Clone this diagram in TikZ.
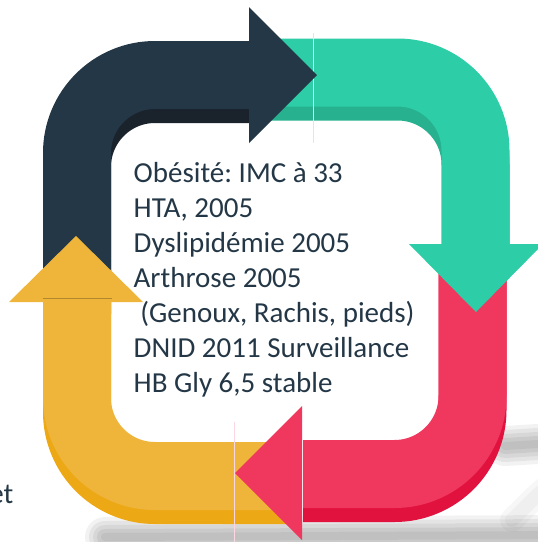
\documentclass[tikz,border=0pt]{standalone}
\usepackage{fontspec}
\setmainfont{Carlito}
\definecolor{navy}{HTML}{243746}
\definecolor{navyd}{HTML}{1A222B}
\definecolor{teal}{HTML}{2DCDA8}
\definecolor{teald}{HTML}{27B18F}
\definecolor{rouge}{HTML}{F0385E}
\definecolor{rouged}{HTML}{E2123F}
\definecolor{jaune}{HTML}{EFB53B}
\definecolor{jauned}{HTML}{EDA815}
\definecolor{ink}{HTML}{243746}
\begin{document}
\frenchspacing
\begin{tikzpicture}[x=1pt,y=-1pt,
  band/.style={line width=68pt, line cap=butt, rounded corners=78pt},
  txt/.style={anchor=base west, inner sep=0pt, font=\fontsize{29}{35}\selectfont, text=ink},
  shade/.style={line cap=round, draw=black}]
\useasboundingbox (0,0) rectangle (538,542);

% soft shadow
\foreach \w/\o in {40/0.05,32/0.06,24/0.06,16/0.06,8/0.05}{
  \draw[shade, line width=\w pt, opacity=\o] (105,537) -- (570,535);
  \draw[shade, line width=\w pt, opacity=\o] (505,446) -- (570,442);
}
\foreach \w/\o in {24/0.03,14/0.03}{
  \draw[shade, line width=\w pt, opacity=\o] (560,478) .. controls (540,490) and (528,505) .. (512,520);
}

% extrusions
\begin{scope}[shift={(0,14)}]
  \draw[band, draw=navyd] (77,300) -- (77,75) -- (250,75);
  \draw[band, draw=teald] (265,72.5) -- (475.5,72.5) -- (475.5,250);
  \draw[band, draw=rouged] (472.5,250) -- (472.5,474) -- (303,474);
  \draw[band, draw=jauned] (300,476) -- (77,476) -- (77,300);
\end{scope}

% bodies
\draw[band, draw=navy] (77,300) -- (77,75) -- (250,75);
\draw[band, draw=teal] (265,72.5) -- (475.5,72.5) -- (475.5,250);
\draw[band, draw=rouge] (472.5,250) -- (472.5,474) -- (303,474);
\draw[band, draw=jaune] (300,476) -- (77,476) -- (77,300);

% thin artefact lines
\draw[black!10, line width=0.7pt] (313,33) -- (313,143);
\draw[rouge!20, line width=0.6pt] (234,422) -- (234,542);

% heads
\fill[navy] (249,7) -- (317,75) -- (249,143) -- cycle;
\fill[teal] (409,244) -- (543,244) -- (476,312) -- cycle;
\fill[rouge] (302,406) -- (235,473) -- (302,540) -- cycle;
\fill[jaune] (9,302) -- (143,302) -- (76,236) -- cycle;
\draw[jaune!75!black, line width=0.6pt] (43,298.5) -- (112,298.5);

% text
\node[txt] (t1) at (133.5,182) {Obésité: IMC à 33};
\node[txt] (t2) at (133.5,217) {HTA, 2005};
\node[txt] (t3) at (133.5,252) {Dyslipidémie 2005};
\node[txt] (t4) at (133.5,287) {Arthrose 2005};
\node[txt] (t5) at (133.5,322) {\ (Genoux, Rachis, pieds)};
\node[txt] (t6) at (133.5,357) {DNID 2011 Surveillance};
\node[txt] (t7) at (133.5,392) {HB Gly 6,5 stable};
\node[txt, anchor=base east] (et) at (13.5,503) {et};
\end{tikzpicture}
\end{document}
